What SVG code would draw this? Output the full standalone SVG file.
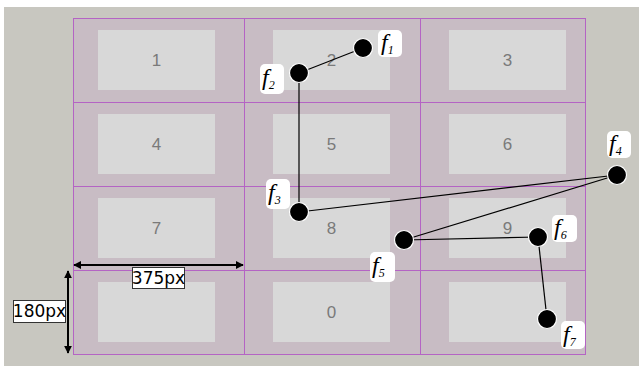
<svg xmlns="http://www.w3.org/2000/svg" width="639" height="366" viewBox="0 0 639 366">
  <style>
    .cell { fill: #c8bcc4; stroke: #b464c4; stroke-width: 1; }
    .box { fill: #d8d8d8; }
    .num { font-family: "Liberation Sans", Arial, sans-serif; font-size: 17px; fill: #7a7a7a; text-anchor: middle; }
    .edge { stroke: #000; stroke-width: 1.2; fill: none; }
    .dot { fill: #000; stroke: #fff; stroke-width: 1.2; }
    .tag { fill: #fff; }
    .ft { font-family: "Liberation Serif", "Times New Roman", serif; font-style: italic; font-size: 24px; fill: #000; }
    .sub { font-size: 12px; }
    .dim { stroke: #000; stroke-width: 2; fill: none; }
    .dimbox { fill: #fff; stroke: #333; stroke-width: 1; }
    .dimtxt { font-family: "DejaVu Sans", sans-serif; font-size: 17px; fill: #000; text-anchor: middle; }
  </style>
  <defs>
    <marker id="ah" viewBox="0 0 10 10" refX="9" refY="5" markerWidth="4" markerHeight="4" orient="auto-start-reverse">
      <path d="M0,0 L10,5 L0,10 z" fill="#000"/>
    </marker>
  </defs>

  <rect x="0" y="0" width="639" height="366" fill="#fff"/>
  <rect x="4" y="7" width="635" height="359" fill="#c8c7c0"/>

  <!-- grid cells -->
  <g id="cell-1"><rect class="cell" x="73.5" y="18.5" width="171" height="84"/><rect class="box" x="98" y="30" width="117" height="60"/><text class="num" x="156.5" y="66">1</text></g>
  <g id="cell-2"><rect class="cell" x="244.5" y="18.5" width="176" height="84"/><rect class="box" x="273" y="30" width="117" height="60"/><text class="num" x="331.5" y="66">2</text></g>
  <g id="cell-3"><rect class="cell" x="420.5" y="18.5" width="165" height="84"/><rect class="box" x="449" y="30" width="117" height="60"/><text class="num" x="507.5" y="66">3</text></g>

  <g id="cell-4"><rect class="cell" x="73.5" y="102.5" width="171" height="84"/><rect class="box" x="98" y="114" width="117" height="60"/><text class="num" x="156.5" y="150">4</text></g>
  <g id="cell-5"><rect class="cell" x="244.5" y="102.5" width="176" height="84"/><rect class="box" x="273" y="114" width="117" height="60"/><text class="num" x="331.5" y="150">5</text></g>
  <g id="cell-6"><rect class="cell" x="420.5" y="102.5" width="165" height="84"/><rect class="box" x="449" y="114" width="117" height="60"/><text class="num" x="507.5" y="150">6</text></g>

  <g id="cell-7"><rect class="cell" x="73.5" y="186.5" width="171" height="84"/><rect class="box" x="98" y="198" width="117" height="60"/><text class="num" x="156.5" y="234">7</text></g>
  <g id="cell-8"><rect class="cell" x="244.5" y="186.5" width="176" height="84"/><rect class="box" x="273" y="198" width="117" height="60"/><text class="num" x="331.5" y="234">8</text></g>
  <g id="cell-9"><rect class="cell" x="420.5" y="186.5" width="165" height="84"/><rect class="box" x="449" y="198" width="117" height="60"/><text class="num" x="507.5" y="234">9</text></g>

  <g id="cell-blank-a"><rect class="cell" x="73.5" y="270.5" width="171" height="84"/><rect class="box" x="98" y="282" width="117" height="60"/></g>
  <g id="cell-0"><rect class="cell" x="244.5" y="270.5" width="176" height="84"/><rect class="box" x="273" y="282" width="117" height="60"/><text class="num" x="331.5" y="318">0</text></g>
  <g id="cell-blank-b"><rect class="cell" x="420.5" y="270.5" width="165" height="84"/><rect class="box" x="449" y="282" width="117" height="60"/></g>

  <!-- path connectors -->
  <g id="connectors">
    <line class="edge" x1="363" y1="48" x2="299" y2="73"/>
    <line class="edge" x1="299" y1="73" x2="299" y2="212"/>
    <line class="edge" x1="299" y1="212" x2="617" y2="175"/>
    <line class="edge" x1="617" y1="175" x2="404" y2="240"/>
    <line class="edge" x1="404" y1="240" x2="538" y2="237"/>
    <line class="edge" x1="538" y1="237" x2="547" y2="319"/>
  </g>

  <!-- points -->
  <g id="f1"><circle class="dot" cx="363" cy="48" r="9.5"/><rect class="tag" x="378" y="30" width="24" height="27" rx="5"/><text class="ft" x="381" y="50">f<tspan class="sub" dy="4">1</tspan></text></g>
  <g id="f2"><circle class="dot" cx="299" cy="73" r="9.5"/><rect class="tag" x="260" y="64" width="24" height="30" rx="5"/><text class="ft" x="262" y="85">f<tspan class="sub" dy="4">2</tspan></text></g>
  <g id="f3"><circle class="dot" cx="299" cy="212" r="9.5"/><rect class="tag" x="266" y="179" width="24" height="30" rx="5"/><text class="ft" x="268" y="200">f<tspan class="sub" dy="4">3</tspan></text></g>
  <g id="f4"><circle class="dot" cx="617" cy="175" r="9.5"/><rect class="tag" x="607" y="131" width="24" height="27" rx="5"/><text class="ft" x="609" y="151">f<tspan class="sub" dy="4">4</tspan></text></g>
  <g id="f5"><circle class="dot" cx="404" cy="240" r="9.5"/><rect class="tag" x="370" y="252" width="25" height="30" rx="5"/><text class="ft" x="372" y="273">f<tspan class="sub" dy="4">5</tspan></text></g>
  <g id="f6"><circle class="dot" cx="538" cy="237" r="9.5"/><rect class="tag" x="552" y="215" width="25" height="27" rx="5"/><text class="ft" x="554" y="235">f<tspan class="sub" dy="4">6</tspan></text></g>
  <g id="f7"><circle class="dot" cx="547" cy="319" r="9.5"/><rect class="tag" x="561" y="321" width="24" height="28" rx="5"/><text class="ft" x="563" y="342">f<tspan class="sub" dy="4">7</tspan></text></g>

  <!-- dimensions -->
  <g id="dim-width">
    <line class="dim" x1="74" y1="265" x2="243" y2="265" marker-start="url(#ah)" marker-end="url(#ah)"/>
    <rect class="dimbox" x="132.5" y="267.5" width="52" height="21"/>
    <text class="dimtxt" x="158.5" y="284">375px</text>
  </g>
  <g id="dim-height">
    <line class="dim" x1="68" y1="271" x2="68" y2="353" marker-start="url(#ah)" marker-end="url(#ah)"/>
    <rect class="dimbox" x="13.5" y="300.5" width="52" height="22"/>
    <text class="dimtxt" x="39.5" y="317">180px</text>
  </g>
</svg>
